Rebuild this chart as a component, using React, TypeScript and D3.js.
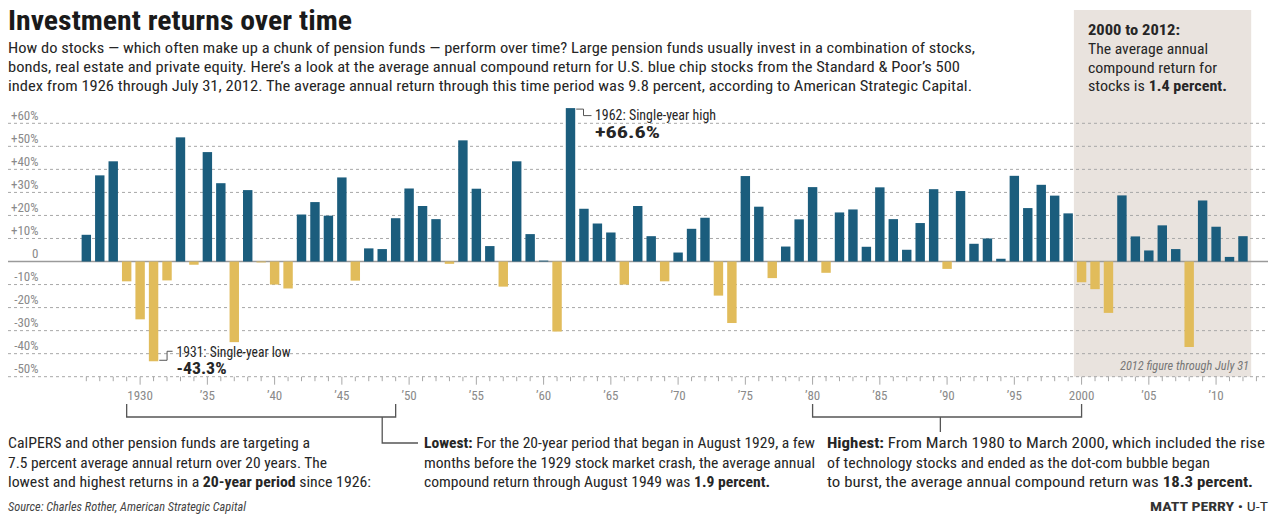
import * as React from "react";
import * as d3 from "d3";

// S&P 500 annual returns, 1926-2012 (percent)
const years: number[] = d3.range(1926, 2013);
const returns: number[] = [
  11.6, 37.4, 43.5, -8.6, -25.1, -43.3, -8.2, 53.9, -1.4, 47.5,
  34.0, -35.0, 31.0, -0.4, -10.0, -11.7, 20.4, 25.8, 19.9, 36.5,
  -8.3, 5.7, 5.4, 18.8, 31.7, 24.1, 18.4, -1.0, 52.6, 31.6,
  6.7, -10.9, 43.5, 11.9, 0.4, -30.4, 66.6, 22.9, 16.5, 12.6,
  -10.0, 24.1, 11.0, -8.6, 3.9, 14.2, 19.0, -14.8, -26.7, 37.1,
  23.8, -7.2, 6.5, 18.3, 32.3, -4.9, 21.3, 22.6, 6.4, 32.2,
  18.4, 5.1, 16.7, 31.4, -3.2, 30.6, 7.7, 10.0, 1.2, 37.2,
  23.2, 33.3, 28.6, 20.9, -9.0, -12.0, -22.3, 28.7, 10.9, 4.8,
  15.7, 5.4, -37.1, 26.5, 15.1, 2.0, 11.0
];
const yTicks: number[] = [-50, -40, -30, -20, -10, 0, 10, 20, 30, 40, 50, 60];
const xLabelYears: number[] = [1930, 1935, 1940, 1945, 1950, 1955, 1960, 1965, 1970, 1975, 1980, 1985, 1990, 1995, 2000, 2005, 2010];

const title = "Investment returns over time";
const subtitle: string[] = [
  "How do stocks — which often make up a chunk of pension funds — perform over time? Large pension funds usually invest in a combination of stocks,",
  "bonds, real estate and private equity. Here’s a look at the average annual compound return for U.S. blue chip stocks from the Standard & Poor’s 500",
  "index from 1926 through July 31, 2012. The average annual return through this time period was 9.8 percent, according to American Strategic Capital."
];

const W = 1285;
const H = 517;
const BLUE = "#1b5d7d";
const GOLD = "#e1bc5b";
const GRID = "#a8a8a8";
const INK = "#262626";
const FONT = "'Liberation Sans Narrow', 'Roboto Condensed', 'Arial Narrow', Roboto, sans-serif";

const x = d3.scaleBand<number>().domain(years).range([79.6, 1249.7]).paddingInner(0.3).paddingOuter(0.15);
const y = d3.scaleLinear().domain([-50, 60]).range([376.7, 123.3]);
const xc = (yr: number) => (x(yr) as number) + x.bandwidth() / 2;

const fmtY = (v: number) => (v > 0 ? `+${v}%` : v === 0 ? "0" : `${v}%`);
const fmtX = (v: number) => (v === 1930 || v === 2000 ? String(v) : "’" + String(v).slice(2));

export default function App() {
  const step = x.step();
  const tickYears = d3.range(1926, 2014);
  const base = y(-50);
  const shadeX0 = (x(2000) as number) - 3;
  const shadeX1 = (x(2012) as number) + x.bandwidth() + 3.5;
  const lowMid = xc(1948);
  const highMid = (xc(1989) + xc(1990)) / 2;

  return (
    <div style={{ position: "absolute", left: 0, top: 0 }}>
      <svg width={W} height={H} style={{ display: "block", background: "#fff" }} fontFamily={FONT}>
        {/* shaded 2000-2012 panel */}
        <rect x={shadeX0} y={10} width={shadeX1 - shadeX0} height={base - 10} fill="#e9e3de" />

        {/* title + intro */}
        <text x={8} y={30} fontSize={27} fontWeight="bold" fill="#1a1a1a" textLength={344} lengthAdjust="spacingAndGlyphs">{title}</text>
        {subtitle.map((s, i) => (
          <text key={i} x={8} y={53 + i * 19} fontSize={15.5} fill={INK} textLength={[967, 952, 964][i]} lengthAdjust="spacingAndGlyphs">{s}</text>
        ))}

        {/* box text */}
        <text x={1088} y={35} fontSize={15.5} fontWeight="bold" fill={INK} textLength={92} lengthAdjust="spacingAndGlyphs">2000 to 2012:</text>
        <text x={1088} y={54} fontSize={15.5} fill={INK} textLength={120} lengthAdjust="spacingAndGlyphs">The average annual</text>
        <text x={1088} y={72.5} fontSize={15.5} fill={INK} textLength={129} lengthAdjust="spacingAndGlyphs">compound return for</text>
        <text x={1088} y={91} fontSize={15.5} fill={INK} textLength={139} lengthAdjust="spacingAndGlyphs">
          stocks is <tspan fontWeight="bold">1.4 percent.</tspan>
        </text>

        {/* gridlines */}
        {yTicks.map(t => (
          <g key={t}>
            <line x1={8} x2={1268} y1={y(t)} y2={y(t)} stroke={t === 0 ? "#9a9a9a" : GRID}
              strokeWidth={t === 0 ? 1.3 : 1} strokeDasharray={t === 0 ? undefined : "3,3"} />
            <text x={38.5} y={y(t) - 3.5} fontSize={13} fill="#8a8a8a" textAnchor="end">{fmtY(t)}</text>
          </g>
        ))}

        {/* x ticks */}
        {tickYears.map(yr => {
          const cx = xc(1926) + (yr - 1926) * step;
          const major = yr % 5 === 0;
          return <line key={yr} x1={cx} x2={cx} y1={base} y2={base + (major ? 8 : 4.5)} stroke={GRID} strokeWidth={1} />;
        })}
        {xLabelYears.map(yr => (
          <text key={yr} x={xc(yr)} y={400} fontSize={13} fill="#8a8a8a" textAnchor="middle">{fmtX(yr)}</text>
        ))}

        {/* bars */}
        {years.map((yr, i) => {
          const v = returns[i];
          return (
            <rect key={yr} x={x(yr)} width={x.bandwidth()} y={v >= 0 ? y(v) : y(0)}
              height={Math.abs(y(v) - y(0))} fill={v >= 0 ? BLUE : GOLD} />
          );
        })}

        {/* 1931 low annotation */}
        <path d={`M${(x(1931) as number) + x.bandwidth() + 1},${y(-43.3) - 1} H${xc(1931) + 13.5} V${y(-43.3) - 10} H${xc(1931) + 19}`}
          fill="none" stroke="#555" strokeWidth={1} />
        <text x={176.5} y={356.5} fontSize={14} fill={INK} textLength={114} lengthAdjust="spacingAndGlyphs">1931: Single-year low</text>
        <text x={176.5} y={374} fontSize={16} fontWeight="bold" fill={INK} textLength={50} lengthAdjust="spacingAndGlyphs">-43.3%</text>

        {/* 1962 high annotation */}
        <path d={`M${(x(1962) as number) + x.bandwidth() + 1},${y(66.6) + 1} H${xc(1962) + 13} V${y(66.6) + 7.5} H${xc(1962) + 21}`}
          fill="none" stroke="#555" strokeWidth={1} />
        <text x={595} y={120} fontSize={14} fill={INK} textLength={121} lengthAdjust="spacingAndGlyphs">1962: Single-year high</text>
        <text x={595} y={137.5} fontSize={16} fontWeight="bold" fill={INK} textLength={65} lengthAdjust="spacingAndGlyphs">+66.6%</text>

        <text x={1249} y={370} fontSize={12.5} fontStyle="italic" fill="#777" textAnchor="end" textLength={129} lengthAdjust="spacingAndGlyphs">2012 figure through July 31</text>

        {/* 20-year brackets */}
        <path d={`M${xc(1929)},404 V417 H${xc(1949)} V404 M${lowMid},417 V443 H418`} fill="none" stroke="#555" strokeWidth={1.3} />
        <path d={`M${xc(1980)},404 V417 H${xc(2000)} V404 M${highMid},417 V432`} fill="none" stroke="#555" strokeWidth={1.3} />

        {/* bottom text */}
        <text x={8} y={448} fontSize={15.5} fill={INK} textLength={302} lengthAdjust="spacingAndGlyphs">CalPERS and other pension funds are targeting a</text>
        <text x={8} y={467.5} fontSize={15.5} fill={INK} textLength={319} lengthAdjust="spacingAndGlyphs">7.5 percent average annual return over 20 years. The</text>
        <text x={8} y={487} fontSize={15.5} fill={INK} textLength={363} lengthAdjust="spacingAndGlyphs">
          lowest and highest returns in a <tspan fontWeight="bold">20-year period</tspan> since 1926:
        </text>

        <text x={424} y={448} fontSize={15.5} fill={INK} textLength={391} lengthAdjust="spacingAndGlyphs">
          <tspan fontWeight="bold">Lowest:</tspan> For the 20-year period that began in August 1929, a few
        </text>
        <text x={424} y={467.5} fontSize={15.5} fill={INK} textLength={391} lengthAdjust="spacingAndGlyphs">months before the 1929 stock market crash, the average annual</text>
        <text x={424} y={487} fontSize={15.5} fill={INK} textLength={346} lengthAdjust="spacingAndGlyphs">
          compound return through August 1949 was <tspan fontWeight="bold">1.9 percent.</tspan>
        </text>

        <text x={827} y={448} fontSize={15.5} fill={INK} textLength={438} lengthAdjust="spacingAndGlyphs">
          <tspan fontWeight="bold">Highest:</tspan> From March 1980 to March 2000, which included the rise
        </text>
        <text x={827} y={467.5} fontSize={15.5} fill={INK} textLength={383} lengthAdjust="spacingAndGlyphs">of technology stocks and ended as the dot-com bubble began</text>
        <text x={827} y={487} fontSize={15.5} fill={INK} textLength={426} lengthAdjust="spacingAndGlyphs">
          to burst, the average annual compound return was <tspan fontWeight="bold">18.3 percent.</tspan>
        </text>

        <text x={8} y={511} fontSize={12} fontStyle="italic" fill="#444" textLength={238} lengthAdjust="spacingAndGlyphs">Source: Charles Rother, American Strategic Capital</text>
        <text x={1268} y={511} fontSize={13} fill="#333" textAnchor="end" textLength={118} lengthAdjust="spacingAndGlyphs">
          <tspan fontWeight="bold">MATT PERRY</tspan> • U-T
        </text>
      </svg>
    </div>
  );
}
